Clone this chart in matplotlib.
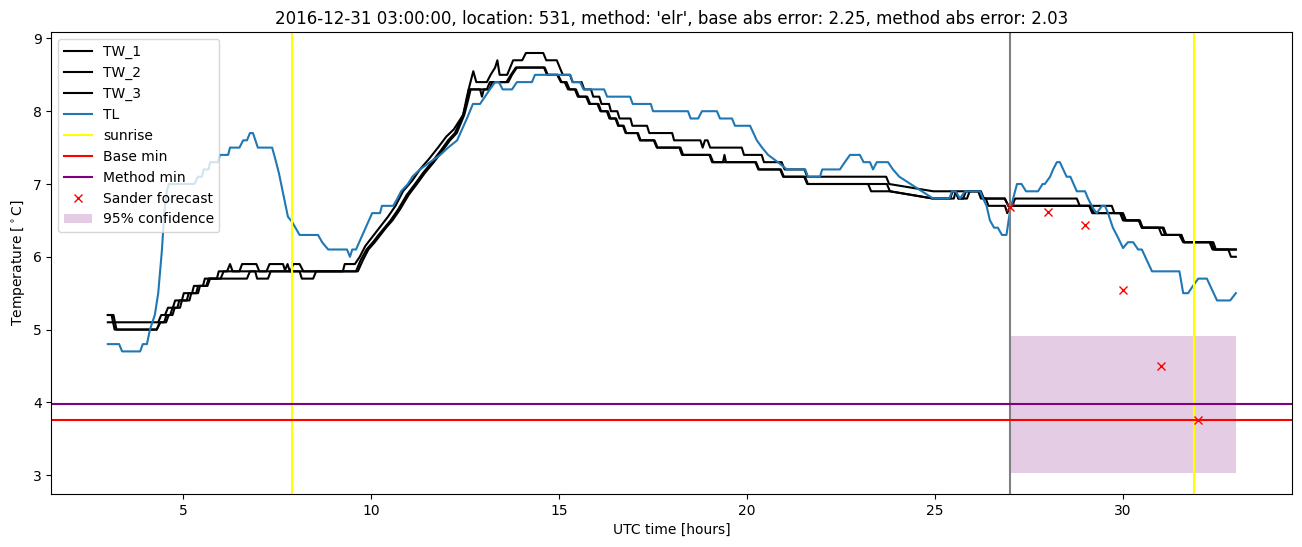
import numpy as np
import matplotlib
matplotlib.use('Agg')
import matplotlib.pyplot as plt

# (hour, temperature) pairs
tl = np.array([
    (3.0, 4.8), (3.3, 4.8), (3.38, 4.7), (3.86, 4.7), (3.93, 4.8), (4.04, 4.8), (4.12, 5.0),
    (4.25, 5.2), (4.34, 5.5), (4.44, 6.1), (4.5, 6.6), (4.57, 6.9), (4.62, 7.0), (5.3, 7.0),
    (5.4, 7.1), (5.5, 7.1), (5.55, 7.2), (5.68, 7.2), (5.72, 7.3), (5.93, 7.3), (5.98, 7.4),
    (6.2, 7.4), (6.25, 7.5), (6.5, 7.5), (6.6, 7.6), (6.7, 7.6), (6.78, 7.7), (6.86, 7.7),
    (6.99, 7.5), (7.37, 7.5), (7.45, 7.35), (7.55, 7.15), (7.63, 6.95), (7.71, 6.75),
    (7.79, 6.55), (7.9, 6.48), (8.1, 6.3), (8.59, 6.3), (8.7, 6.2), (8.86, 6.1), (9.36, 6.1),
    (9.44, 6.0), (9.5, 6.1), (9.6, 6.1), (10.03, 6.6), (10.24, 6.6), (10.29, 6.7), (10.59, 6.7),
    (10.7, 6.8), (10.8, 6.9), (10.98, 7.0), (11.1, 7.1), (11.3, 7.2), (11.57, 7.3), (11.84, 7.4),
    (12.05, 7.5), (12.29, 7.6), (12.55, 7.9), (12.71, 8.1), (12.9, 8.1), (13.03, 8.2),
    (13.16, 8.3), (13.3, 8.4), (13.4, 8.4), (13.5, 8.3), (13.75, 8.3), (13.88, 8.4),
    (14.28, 8.4), (14.36, 8.5), (15.3, 8.5), (15.37, 8.4), (15.56, 8.4), (15.65, 8.3),
    (16.2, 8.3), (16.28, 8.2), (16.89, 8.2), (16.96, 8.1), (17.44, 8.1), (17.5, 8.0),
    (18.43, 8.0), (18.5, 7.9), (18.7, 7.9), (18.8, 8.0), (19.2, 8.0), (19.28, 7.9), (19.6, 7.9),
    (19.68, 7.8), (20.08, 7.8), (20.26, 7.6), (20.4, 7.5), (20.56, 7.4), (20.82, 7.3),
    (21.06, 7.2), (21.55, 7.2), (21.62, 7.1), (21.94, 7.1), (22.0, 7.2), (22.47, 7.2),
    (22.6, 7.3), (22.74, 7.4), (23.0, 7.4), (23.1, 7.3), (23.27, 7.3), (23.35, 7.2),
    (23.45, 7.3), (23.75, 7.3), (23.88, 7.2), (24.05, 7.1), (24.95, 6.8), (25.38, 6.8),
    (25.45, 6.9), (25.55, 6.9), (25.66, 6.8), (25.8, 6.9), (26.2, 6.9), (26.28, 6.8),
    (26.37, 6.7), (26.46, 6.5), (26.57, 6.4), (26.67, 6.4), (26.78, 6.3), (26.9, 6.3),
    (27.0, 6.65), (27.18, 7.0), (27.3, 7.0), (27.42, 6.9), (27.74, 6.9), (27.86, 7.0),
    (27.92, 7.0), (28.06, 7.1), (28.14, 7.2), (28.24, 7.3), (28.32, 7.3), (28.5, 7.1),
    (28.6, 7.1), (28.77, 6.9), (28.99, 6.9), (29.07, 6.8), (29.2, 6.67), (29.3, 6.6),
    (29.44, 6.7), (29.52, 6.7), (29.6, 6.6), (29.73, 6.4), (29.87, 6.26), (30.0, 6.12),
    (30.13, 6.2), (30.27, 6.2), (30.4, 6.1), (30.5, 6.1), (30.77, 5.8), (31.5, 5.8),
    (31.6, 5.5), (31.73, 5.5), (31.86, 5.6), (32.0, 5.7), (32.23, 5.7), (32.5, 5.4),
    (32.85, 5.4), (33.0, 5.5),
])

tw_1 = np.array([
    (3.0, 5.1), (4.34, 5.1), (4.42, 5.2), (4.52, 5.2), (4.6, 5.3), (4.73, 5.3), (4.79, 5.4),
    (4.97, 5.4), (5.02, 5.5), (5.24, 5.5), (5.29, 5.6), (5.53, 5.6), (5.58, 5.7), (5.9, 5.7),
    (5.95, 5.8), (6.17, 5.8), (6.25, 5.9), (6.32, 5.8), (6.5, 5.8), (6.57, 5.9), (6.95, 5.9),
    (7.03, 5.8), (7.22, 5.8), (7.3, 5.9), (7.66, 5.9), (7.72, 5.8), (7.86, 5.8), (7.93, 5.9),
    (8.1, 5.9), (8.2, 5.8), (9.25, 5.8), (9.3, 5.9), (9.57, 5.9), (9.7, 6.0), (9.85, 6.15),
    (10.0, 6.25), (10.15, 6.35), (10.3, 6.45), (10.45, 6.55), (10.65, 6.7), (10.85, 6.9),
    (11.1, 7.05), (11.3, 7.2), (11.55, 7.35), (11.78, 7.5), (12.0, 7.65), (12.2, 7.75),
    (12.45, 7.95), (12.55, 8.2), (12.62, 8.35), (12.72, 8.55), (12.8, 8.4), (13.08, 8.4),
    (13.18, 8.5), (13.3, 8.6), (13.36, 8.7), (13.42, 8.5), (13.62, 8.5), (13.7, 8.6),
    (13.78, 8.7), (14.02, 8.7), (14.12, 8.8), (14.58, 8.8), (14.66, 8.7), (14.94, 8.7),
    (15.02, 8.6), (15.1, 8.5), (15.29, 8.5), (15.36, 8.4), (15.6, 8.4), (15.67, 8.3),
    (15.85, 8.3), (15.91, 8.2), (16.07, 8.2), (16.13, 8.1), (16.33, 8.1), (16.38, 8.0),
    (16.55, 8.0), (16.61, 7.9), (16.9, 7.9), (16.95, 7.8), (17.34, 7.8), (17.4, 7.7),
    (18.01, 7.7), (18.06, 7.6), (18.76, 7.6), (18.82, 7.5), (18.88, 7.6), (18.95, 7.6),
    (19.02, 7.5), (19.86, 7.5), (19.92, 7.4), (20.39, 7.4), (20.45, 7.3), (20.92, 7.3),
    (21.0, 7.2), (21.53, 7.2), (21.6, 7.1), (23.7, 7.1), (23.78, 7.0), (24.95, 6.9),
    (26.22, 6.9), (26.3, 6.8), (26.86, 6.8), (26.95, 6.7), (27.05, 6.7), (27.13, 6.8),
    (28.77, 6.8), (28.85, 6.7), (29.7, 6.7), (29.77, 6.6), (30.0, 6.6), (30.08, 6.5),
    (30.42, 6.5), (30.5, 6.4), (30.95, 6.4), (31.03, 6.3), (31.55, 6.3), (31.63, 6.2),
    (32.4, 6.2), (32.47, 6.1), (33.0, 6.1),
])

tw_2 = np.array([
    (3.0, 5.2), (3.1, 5.2), (3.18, 5.0), (4.3, 5.0), (4.38, 5.1), (4.5, 5.1), (4.56, 5.2),
    (4.66, 5.2), (4.72, 5.3), (4.85, 5.3), (4.9, 5.4), (5.1, 5.4), (5.15, 5.5), (5.35, 5.5),
    (5.4, 5.6), (5.62, 5.6), (5.68, 5.7), (6.0, 5.7), (6.08, 5.8), (7.7, 5.8), (7.78, 5.9),
    (7.84, 5.8), (9.6, 5.8), (9.72, 5.95), (9.88, 6.1), (10.05, 6.2), (10.2, 6.3),
    (10.36, 6.4), (10.52, 6.5), (10.72, 6.65), (10.95, 6.85), (11.17, 7.0), (11.38, 7.15),
    (11.62, 7.3), (11.84, 7.45), (12.05, 7.6), (12.23, 7.7), (12.45, 7.95), (12.55, 8.15),
    (12.6, 8.3), (13.08, 8.3), (13.16, 8.4), (13.6, 8.4), (13.72, 8.5), (13.85, 8.6),
    (14.6, 8.6), (14.68, 8.5), (14.95, 8.5), (15.05, 8.4), (15.15, 8.4), (15.24, 8.3),
    (15.42, 8.3), (15.5, 8.2), (15.72, 8.2), (15.8, 8.1), (16.02, 8.1), (16.1, 8.0),
    (16.27, 8.0), (16.34, 7.9), (16.5, 7.9), (16.57, 7.8), (16.7, 7.8), (16.77, 7.7),
    (17.08, 7.7), (17.15, 7.6), (17.52, 7.6), (17.6, 7.5), (18.2, 7.5), (18.27, 7.4),
    (19.0, 7.4), (19.07, 7.3), (20.22, 7.3), (20.3, 7.2), (20.88, 7.2), (20.96, 7.1),
    (21.52, 7.1), (21.6, 7.0), (23.72, 7.0), (23.8, 6.9), (24.95, 6.8), (25.4, 6.8),
    (25.47, 6.9), (25.55, 6.9), (25.62, 6.8), (25.75, 6.8), (25.82, 6.9), (26.2, 6.9),
    (26.28, 6.8), (26.35, 6.8), (26.42, 6.7), (26.86, 6.7), (26.92, 6.6), (27.0, 6.7),
    (29.1, 6.7), (29.18, 6.6), (29.92, 6.6), (30.0, 6.5), (30.42, 6.5), (30.5, 6.4),
    (31.05, 6.4), (31.12, 6.3), (31.55, 6.3), (31.62, 6.2), (32.35, 6.2), (32.42, 6.1),
    (33.0, 6.1),
])

tw_3 = np.array([
    (3.0, 5.2), (3.15, 5.2), (3.23, 5.0), (4.3, 5.0), (4.4, 5.1), (4.55, 5.1), (4.62, 5.2),
    (4.72, 5.2), (4.78, 5.3), (4.92, 5.3), (4.97, 5.4), (5.17, 5.4), (5.22, 5.5), (5.4, 5.5),
    (5.45, 5.6), (5.65, 5.6), (5.72, 5.7), (6.7, 5.7), (6.78, 5.8), (6.92, 5.8), (6.97, 5.7),
    (7.26, 5.7), (7.33, 5.8), (8.1, 5.8), (8.16, 5.7), (8.46, 5.7), (8.54, 5.8), (9.65, 5.8),
    (9.78, 5.95), (9.93, 6.1), (10.1, 6.2), (10.25, 6.3), (10.4, 6.4), (10.57, 6.5),
    (10.77, 6.65), (11.0, 6.85), (11.22, 7.0), (11.43, 7.15), (11.67, 7.3), (11.89, 7.45),
    (12.1, 7.6), (12.28, 7.7), (12.48, 7.95), (12.58, 8.15), (12.65, 8.3), (12.9, 8.3),
    (12.95, 8.2), (13.0, 8.3), (13.15, 8.3), (13.22, 8.4), (13.65, 8.4), (13.75, 8.5),
    (13.88, 8.6), (14.62, 8.6), (14.7, 8.5), (14.97, 8.5), (15.07, 8.4), (15.2, 8.4),
    (15.28, 8.3), (15.45, 8.3), (15.53, 8.2), (15.75, 8.2), (15.83, 8.1), (16.05, 8.1),
    (16.12, 8.0), (16.3, 8.0), (16.37, 7.9), (16.52, 7.9), (16.59, 7.8), (16.72, 7.8),
    (16.79, 7.7), (17.1, 7.7), (17.17, 7.6), (17.54, 7.6), (17.62, 7.5), (18.23, 7.5),
    (18.3, 7.4), (19.02, 7.4), (19.1, 7.3), (19.36, 7.3), (19.4, 7.4), (19.44, 7.3),
    (20.24, 7.3), (20.32, 7.2), (20.9, 7.2), (20.98, 7.1), (21.54, 7.1), (21.62, 7.0),
    (23.22, 7.0), (23.3, 6.9), (23.8, 6.9), (24.95, 6.8), (25.5, 6.8), (25.55, 6.9),
    (25.62, 6.8), (25.85, 6.8), (25.92, 6.9), (26.15, 6.9), (26.22, 6.8), (26.85, 6.8),
    (26.95, 6.7), (29.15, 6.7), (29.22, 6.6), (29.95, 6.6), (30.03, 6.5), (30.45, 6.5),
    (30.52, 6.4), (31.08, 6.4), (31.15, 6.3), (31.5, 6.3), (31.6, 6.2), (32.3, 6.2),
    (32.38, 6.1), (32.8, 6.1), (32.87, 6.0), (33.0, 6.0),
])

sunrise_hours = [7.9, 31.9]
forecast_start = 27.0
base_min = 3.76
method_min = 3.98
sander_hours = [27, 28, 29, 30, 31, 32]
sander_temps = [6.69, 6.62, 6.43, 5.55, 4.50, 3.76]
conf_hours = [27.0, 33.0]
conf_low = 3.03
conf_high = 4.91

title = ("2016-12-31 03:00:00, location: 531, method: 'elr', "
         "base abs error: 2.25, method abs error: 2.03")

fig, ax = plt.subplots(figsize=(13.02, 5.47), dpi=100)

for name, series in [('TW_1', tw_1), ('TW_2', tw_2), ('TW_3', tw_3)]:
    ax.plot(series[:, 0], series[:, 1], color='black', label=name)
ax.plot(tl[:, 0], tl[:, 1], color='C0', label='TL')

for i, h in enumerate(sunrise_hours):
    ax.axvline(h, color='yellow', label='sunrise' if i == 0 else None)
ax.axvline(forecast_start, color='grey')
ax.axhline(base_min, color='red', label='Base min')
ax.axhline(method_min, color='purple', label='Method min')
ax.plot(sander_hours, sander_temps, 'x', color='red', linestyle='none', label='Sander forecast')
ax.fill_between(conf_hours, conf_low, conf_high, color='purple', alpha=0.2, linewidth=0,
                label='95% confidence')

ax.set_title(title)
ax.set_xlabel('UTC time [hours]')
ax.set_ylabel(r'Temperature [$^\circ$C]')
ax.legend(loc='upper left')

fig.subplots_adjust(left=0.0395, right=0.9925, bottom=0.097, top=0.9415)
fig.savefig('out.png', dpi=100)
